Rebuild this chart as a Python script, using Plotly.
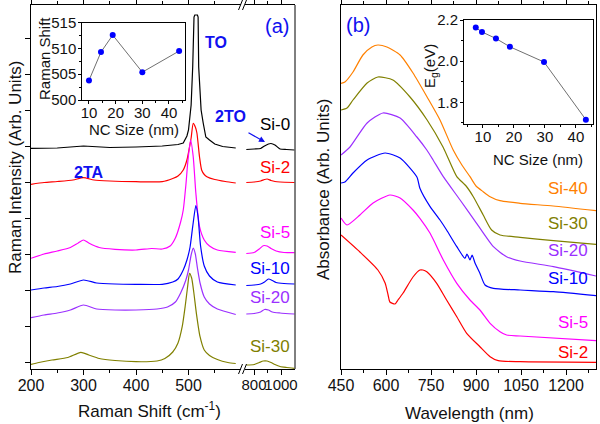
import plotly.graph_objects as go

W, H = 600, 424
def px(x): return x / W
def py(y): return 1 - y / H

FONT = "Liberation Sans, Arial, sans-serif"

# ---------------- Panel (a): Raman spectra (y in arb. units) ----------------
si0_x1 = [200,250,300,350,400,450,480,490,497,500,505,508,510.5,512,517,518.3,519.4,521,524,528,533,540,550,565,590]
si0_y1 = [220.7,221,223,221.5,222,223,224.5,226,233,239,264,302,352,354,354,352,302,282,259,246,232,229,225,222.5,221]
si0_x2 = [743,801,849,878,907,926,955,993,1042,1099]
si0_y2 = [219.5,220,220.5,223,225,225.5,224,220,219.5,219]

si2_x1 = [200,225,250,280,300,320,350,400,450,470,480,490,497,502,505,509,513,516,521,525,530,535,550,570,590]
si2_y1 = [184.7,186.5,187.5,189,191.3,189,188,187.3,187.3,190.5,193,199,209,222,231,245.7,242,236,212,199,194.5,192.3,189.5,187.5,186]
si2_x2 = [743,801,849,878,897,926,955,993,1099]
si2_y2 = [186.5,187,188,189.5,190,188.5,187.5,187,186.5]

si5_x1 = [200,225,250,275,290,300,310,330,360,400,430,450,465,475,485,490,495,499,504,509,514,521,530,540,555,590]
si5_y1 = [110.7,115,118,121.5,126,129,126,121.5,119.7,119,120.5,120,123,131,147,159,184,209,229,212.3,176,142.3,129,123,119,116.7]
si5_x2 = [743,801,839,868,897,926,964,1022,1099]
si5_y2 = [115.5,116.5,120,123.3,123,120.5,118,116.5,116.3]

si10_x1 = [200,225,250,275,300,325,360,400,450,470,480,490,497,503,508,514,518,523,530,540,555,590]
si10_y1 = [79,81,82.5,85,89,86,85,84.7,84.7,87,90,99,109,122,142.3,163.5,153,123,103,93,87,84]
si10_x2 = [743,801,849,878,907,936,964,1022,1099]
si10_y2 = [83.5,84,85,87,90,88.5,86.5,85.5,85]

si20_x1 = [200,225,250,275,300,325,360,400,440,460,475,485,495,500,505,509,513,517,522,530,540,555,590]
si20_y1 = [51.3,54,56,59,64,60,59,59,60,62,67,76,89,99,114,121,115,101,86,72,65,60,54.5]
si20_x2 = [743,801,849,878,907,936,993,1099]
si20_y2 = [55,55.5,57,59.5,59,57,56,55]

si30_x1 = [200,215,240,270,295,310,330,360,400,440,455,470,480,488,494,498,502,506,510,515,522,530,540,555,575,590]
si30_y1 = [4.7,6.5,9,11.5,16.7,14,10.5,8.5,7.3,8,10.5,17,26,42.3,64,81,95.7,91,77,55.7,32.3,19,13.5,9.5,6.5,5.5]
si30_x2 = [743,801,839,868,897,926,955,993,1042,1099]
si30_y2 = [4,4.5,6.5,8,8,6.5,4.5,2.5,1.5,0.7]

raman_ticks1 = [200, 300, 400, 500]
raman_minor1 = [250, 350, 450, 550]
raman_ticks2 = [800, 1000]
raman_minor2 = [900]

# ---------------- Panel (b): absorbance (y in arb. units) ----------------
b40_x = [450,463,490,523,553,573,603,647,690,737,780,824,853,880,900,924,947,980,1047,1157,1300]
b40_y = [285.7,287,297,314,322,324,322,314,296,272,249,219,204,192.3,183,177.3,172.3,168.3,165.7,163,158.3]

b30_x = [450,470,490,537,573,623,680,737,790,836,858,867,891,924,952,980,1047,1158,1300]
b30_y = [259,261,269,286,292,289,272,249,222,192.3,185.7,183,172.3,154,139,134,131.7,128.3,124.7]

b20_x = [450,480,537,590,647,703,736,757,791,847,902,958,1002,1047,1158,1300]
b20_y = [214,222,246,256,251,232,219,209,192.3,169,145.7,122.3,112.3,108,102.3,93]

b10_x = [450,463,490,537,597,647,703,713,747,780,802,836,863,870,880,887,897,913,930,958,1047,1158,1300]
b10_y = [186,187,196,209,216,211,192,180.7,162.3,149,139,122.3,110.7,115,109,114,105.7,95.7,84,80.7,79,77.3,73.3]

b5_x = [450,470,513,557,613,647,690,713,747,791,836,880,913,947,980,1002,1047,1300]
b5_y = [151,144,154,166,174,171,159,150.7,135.7,109,85.7,69,59,45.7,37.3,34,33,28.3]

b2_x = [450,513,573,597,607,613,630,640,657,690,713,723,736,769,802,836,869,913,947,974,1047,1300]
b2_y = [134,117,99,86,74,67,65,69,76,92,99,99,97.3,85.7,69,52.3,35.7,22.3,12.3,8.3,7.3,6.7]

abs_ticks = [450, 600, 750, 900, 1050, 1200]
abs_minor = [525, 675, 825, 975, 1125, 1275]

# ---------------- Insets ----------------
ins_a_size = [10, 14.5, 18.9, 30, 43.8]
ins_a_shift = [503.8, 509.3, 512.6, 505.4, 509.5]

ins_b_size = [7.7, 9.7, 14.2, 18.7, 29.7, 43.2]
ins_b_eg = [2.163, 2.142, 2.110, 2.070, 1.996, 1.716]

C = {"k": "#000000", "r": "#FF0000", "m": "#FF00FF", "b": "#0000FF",
     "p": "#9B30FF", "o": "#808000", "or": "#FF8000"}
ANN = "#1010F0"

fig = go.Figure()

def spec(x, y, col, xa, ya, shape="spline"):
    fig.add_trace(go.Scatter(x=x, y=y, mode="lines", xaxis=xa, yaxis=ya,
                             line=dict(color=col, width=1.2, shape=shape, smoothing=0.6),
                             showlegend=False, hoverinfo="skip"))

spec(si0_x1, si0_y1, C["k"], "x", "y", "linear")
spec(si0_x2, si0_y2, C["k"], "x2", "y")
for xs1, ys1, xs2, ys2, col in [
        (si2_x1, si2_y1, si2_x2, si2_y2, C["r"]),
        (si5_x1, si5_y1, si5_x2, si5_y2, C["m"]),
        (si10_x1, si10_y1, si10_x2, si10_y2, C["b"]),
        (si20_x1, si20_y1, si20_x2, si20_y2, C["p"]),
        (si30_x1, si30_y1, si30_x2, si30_y2, C["o"])]:
    spec(xs1, ys1, col, "x", "y")
    spec(xs2, ys2, col, "x2", "y")

for xs, ys, col in [(b40_x, b40_y, C["or"]), (b30_x, b30_y, C["o"]), (b20_x, b20_y, C["p"]),
                    (b10_x, b10_y, C["b"]), (b5_x, b5_y, C["m"]), (b2_x, b2_y, C["r"])]:
    spec(xs, ys, col, "x3", "y3")

fig.add_trace(go.Scatter(x=ins_a_size, y=ins_a_shift, mode="lines+markers", xaxis="x4", yaxis="y4",
                         line=dict(color="#707070", width=1),
                         marker=dict(color="#0000FF", size=6), showlegend=False))
fig.add_trace(go.Scatter(x=ins_b_size, y=ins_b_eg, mode="lines+markers", xaxis="x5", yaxis="y5",
                         line=dict(color="#707070", width=1),
                         marker=dict(color="#0000FF", size=6), showlegend=False))

ax_common = dict(showgrid=False, zeroline=False, linecolor="black", linewidth=1, automargin=False,
                 tickangle=0, tickcolor="black", tickfont=dict(family=FONT, size=16, color="#111"))
ins_common = {**ax_common, "tickfont": dict(family=FONT, size=15, color="#111")}

YDOM = [py(369), py(5)]
fig.update_layout(
    width=W, height=H, autosize=False, margin=dict(l=0, r=0, t=0, b=0, pad=0, autoexpand=False),
    paper_bgcolor="white", plot_bgcolor="white",
    font=dict(family=FONT, color="#111"),
    xaxis=dict(domain=[px(31), px(241)], range=[200, 600], anchor="y", showline=True,
               mirror="allticks", ticks="outside", ticklen=5, tickvals=raman_ticks1,
               ticklabelstandoff=-3,
               minor=dict(tickvals=raman_minor1, ticks="outside", ticklen=3, tickcolor="black"),
               **ax_common),
    xaxis2=dict(domain=[px(245), px(295)], range=[733.3, 1103.7], anchor="y", showline=True,
                mirror="allticks", ticks="outside", ticklen=5, tickvals=raman_ticks2,
                ticklabelstandoff=-3,
                minor=dict(tickvals=raman_minor2, ticks="outside", ticklen=3, tickcolor="black"),
                **ins_common),
    yaxis=dict(domain=YDOM, range=[0, 364], anchor="x", showline=True, ticks="outside",
               ticklen=5, tickvals=[7 + 36 * k for k in range(10)], showticklabels=False,
               **ax_common),
    xaxis3=dict(domain=[px(341), px(596)], range=[450, 1300], anchor="y3", showline=True,
                mirror="allticks", ticks="outside", ticklen=5, tickvals=abs_ticks,
                ticklabelstandoff=-3,
                minor=dict(tickvals=abs_minor, ticks="outside", ticklen=3, tickcolor="black"),
                **ax_common),
    yaxis3=dict(domain=YDOM, range=[0, 364], anchor="x3", showline=True, mirror=True,
                ticks="", showticklabels=False, **ax_common),
    xaxis4=dict(domain=[px(82.3), px(185)], range=[7.5, 46], anchor="y4", showline=True,
                mirror=True, ticks="outside", ticklen=3, tickvals=[10, 20, 30, 40],
                ticklabelstandoff=-4,
                minor=dict(tickvals=[15, 25, 35, 45], ticks="outside", ticklen=2, tickcolor="black"),
                **ins_common),
    yaxis4=dict(domain=[py(100), py(22.7)], range=[500, 515], anchor="x4", showline=True,
                mirror=True, ticks="outside", ticklen=3, tickvals=[500, 505, 510, 515],
                ticklabelstandoff=-1,
                minor=dict(tickvals=[502.5, 507.5, 512.5], ticks="outside", ticklen=2, tickcolor="black"),
                **ins_common),
    xaxis5=dict(domain=[px(464), px(593)], range=[3.9, 45.5], anchor="y5", showline=True,
                mirror=True, ticks="outside", ticklen=3, tickvals=[10, 20, 30, 40],
                ticklabelstandoff=-4,
                minor=dict(tickvals=[5, 15, 25, 35, 45], ticks="outside", ticklen=2, tickcolor="black"),
                **ins_common),
    yaxis5=dict(domain=[py(124), py(20)], range=[1.695, 2.2], anchor="x5", showline=True,
                mirror=True, ticks="outside", ticklen=3, tickvals=[1.8, 2.0, 2.2],
                ticktext=["1.8", "2.0", "2.2"], ticklabelstandoff=-1,
                minor=dict(tickvals=[1.7, 1.9, 2.1], ticks="outside", ticklen=2, tickcolor="black"),
                **ins_common),
)

shapes = []
# right frame line of panel (a)
shapes.append(dict(type="line", xref="paper", yref="paper", x0=px(295), x1=px(295),
                   y0=py(369), y1=py(5), line=dict(color="black", width=1)))
# axis break marks
for yb in (369, 5):
    for xo in (238.5, 242.5):
        shapes.append(dict(type="line", xref="paper", yref="paper", x0=px(xo), x1=px(xo + 4),
                           y0=py(yb + 5), y1=py(yb - 5), line=dict(color="black", width=1)))
fig.update_layout(shapes=shapes)

ann = []
def text(x, y, s, col="#111", size=17, xa="center", bold=False, angle=0):
    ann.append(dict(xref="paper", yref="paper", x=px(x), y=py(y), text=(f"<b>{s}</b>" if bold else s),
                    showarrow=False, xanchor=xa, yanchor="middle", textangle=angle,
                    font=dict(family=FONT, size=size, color=col)))

# panel (a) labels
text(292, 125, "Si-0", C["k"], xa="right")
text(292, 167, "Si-2", C["r"], xa="right")
text(292, 232, "Si-5", C["m"], xa="right")
text(292, 268, "Si-10", C["b"], xa="right")
text(292, 297, "Si-20", C["p"], xa="right")
text(292, 346, "Si-30", C["o"], xa="right")
text(216, 42, "TO", ANN, size=16, bold=True)
text(230, 117, "2TO", ANN, size=16, bold=True)
text(88, 172, "2TA", ANN, size=16, bold=True)
text(277, 26, "(a)", ANN, size=20)
ann.append(dict(xref="paper", yref="paper", x=px(265), y=py(142), ax=-18, ay=-10, text="",
                showarrow=True, arrowhead=2, arrowsize=1, arrowwidth=1.2, arrowcolor=ANN))
# panel (b) labels
text(590, 189, "Si-40", C["or"], xa="right")
text(590, 223, "Si-30", C["o"], xa="right")
text(590, 250, "Si-20", C["p"], xa="right")
text(590, 278, "Si-10", C["b"], xa="right")
text(590, 322, "Si-5", C["m"], xa="right")
text(590, 352, "Si-2", C["r"], xa="right")
text(358, 25, "(b)", ANN, size=20)
# axis titles
text(149, 410, "Raman Shift (cm<sup>-1</sup>)", size=17)
text(469, 413, "Wavelength (nm)", size=17)
text(15, 167, "Raman Intensity (Arb. Units)", size=17, angle=-90)
text(323, 190, "Absorbance (Arb. Units)", size=17, angle=-90)
# inset titles
text(134, 129, "NC Size (nm)", size=15)
text(45, 59, "Raman Shift", size=15, angle=-90)
text(538, 159, "NC Size (nm)", size=15)
text(430, 66, "E<sub>g</sub>(eV)", size=15, angle=-90)
fig.update_layout(annotations=ann)

fig.write_html("out.html", config={"displayModeBar": False},
               post_script="document.body.style.margin='0px';document.body.style.padding='0px';")
